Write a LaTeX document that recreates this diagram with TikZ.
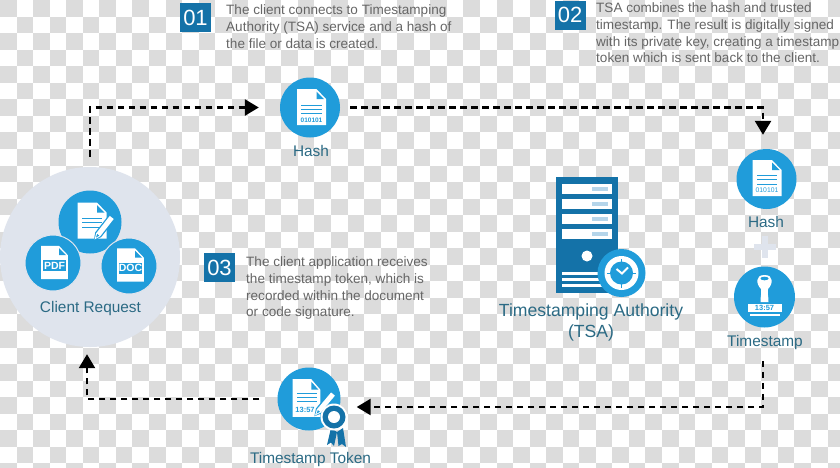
\documentclass[tikz,border=0pt]{standalone}
\usepackage{fontspec}
\setmainfont{Liberation Sans}
\usepackage{xcolor}
\usetikzlibrary{arrows.meta}

\definecolor{checkgray}{HTML}{DCDCDC}
\definecolor{iconblue}{HTML}{209CDA}
\definecolor{deepblue}{HTML}{1472A8}
\definecolor{palehalo}{HTML}{DFE4ED}
\definecolor{palebar}{HTML}{B5D5EA}
\definecolor{labelteal}{HTML}{2B6A84}
\definecolor{notegray}{HTML}{666666}

\tikzset{
  iconcirc/.style={circle, fill=iconblue, inner sep=0pt, minimum size=#1},
  numbox/.style={fill=deepblue, text=white, minimum width=31pt, minimum height=29pt, inner sep=0pt,
    font=\fontsize{22}{22}\selectfont},
  notetext/.style={anchor=north west, inner sep=0pt, align=left, text=notegray,
    font=\fontsize{13.55}{16.8}\selectfont},
  iconlabel/.style={text=labelteal, inner sep=0pt, font=\fontsize{15.4}{18}\selectfont},
  flowarrow/.style={black, line width=2.6pt, dash pattern=on 6.5pt off 4.5pt,
    -{Triangle[length=14pt,width=16pt]}},
  sheetword/.style={inner sep=0pt, font=\bfseries\fontsize{#1}{#1}\selectfont},
  pagesheet/.pic={
    \fill[white] (-14.5,-18) -- (5,-18) -- (14.5,-8) -- (14.5,18) -- (-14.5,18) -- cycle;
    \fill[iconblue] (5,-15.5) -- (5,-8) -- (12.5,-8) -- cycle;
  },
  pencilmark/.pic={
    \fill[iconblue] (-1,0) -- (6,-3.8) -- (29,-3.8) -- (29,3.8) -- (6,3.8) -- cycle;
    \fill[white] (0,0) -- (6,-2.5) -- (28,-2.5) -- (28,2.5) -- (6,2.5) -- cycle;
    \fill[iconblue] (2.5,0) -- (6,-1.3) -- (6,1.3) -- cycle;
  },
}

\begin{document}
\begin{tikzpicture}[x=1pt, y=-1pt]
  \useasboundingbox (0,0) rectangle (840,467);

  % ── Checkered backdrop ──
  \fill[white] (0,0) rectangle (840,467);
  \foreach \i in {0,...,50}{
    \foreach \j in {0,...,28}{
      \pgfmathtruncatemacro{\odd}{mod(\i+\j,2)}
      \ifnum\odd=0
        \fill[checkgray] ({\i*16.55},{\j*16.55}) rectangle ++(16.55,16.55);
      \fi
    }
  }

  % ── Numbered notes ──
  \node[numbox] (numone) at (195.5,17.5) {01};
  \node[numbox] (numtwo) at (570,15) {02};
  \node[numbox] (numthree) at (219.5,267.5) {03};
  \node[notetext] (noteone) at (226,4.5) {The client connects to Timestamping\\Authority (TSA) service and a hash of\\the file or data is created.};
  \node[notetext] (notetwo) at (596,2.5) {TSA combines the hash and trusted\\timestamp. The result is digitally signed\\with its private key, creating a timestamp\\token which is sent back to the client.};
  \node[notetext] (notethree) at (246,256.5) {The client application receives\\the timestamp token, which is\\recorded within the document\\or code signature.};

  % ── Client request group ──
  \node[circle, fill=palehalo, inner sep=0pt, minimum size=180pt] (client) at (90,257) {};
  \node[iconcirc=63pt] (editdoc) at (90,222) {};
  \pic at (92,220.5) {pagesheet};
  \foreach \y in {218,222,227}{\draw[iconblue, line width=0.9pt] (82,\y) -- (102,\y);}
  \pic[rotate=52] at (94.5,239.5) {pencilmark};
  \node[iconcirc=56pt, draw=palehalo, line width=1pt] (pdfdoc) at (53,263) {};
  \pic[scale=0.92] at (54.5,262.5) {pagesheet};
  \node[sheetword=10.5, fill=iconblue, text=white, minimum width=23pt, minimum height=11pt] (pdfword) at (54.5,265.5) {PDF};
  \node[iconcirc=56pt, draw=palehalo, line width=1pt] (docdoc) at (129,266) {};
  \pic[scale=0.92] at (130.5,265) {pagesheet};
  \node[sheetword=10.5, fill=iconblue, text=white, minimum width=23pt, minimum height=11pt] (docword) at (130.5,268) {DOC};
  \node[iconlabel] (clientlabel) at (90.5,308.5) {Client Request};

  % ── Hash on top ──
  \node[iconcirc=60pt] (hashtop) at (310,107.5) {};
  \pic at (311.5,107) {pagesheet};
  \foreach \y in {105,109.5,113.5}{\draw[iconblue, line width=0.9pt] (301,\y) -- (322,\y);}
  \node[sheetword=6.5, text=iconblue] (hashtopbits) at (311.5,120) {010101};
  \node[iconlabel] (hashtoplabel) at (311,151) {Hash};

  % ── Hash and timestamp on the right ──
  \node[iconcirc=60pt] (hashright) at (766.5,179) {};
  \pic at (767,178) {pagesheet};
  \foreach \y in {175,179.5,184}{\draw[iconblue, line width=0.9pt] (757,\y) -- (777,\y);}
  \node[inner sep=0pt, text=iconblue, font=\fontsize{6.8}{7}\selectfont] (hashrightbits) at (767,190.5) {010101};
  \node[iconlabel] (hashrightlabel) at (766,222) {Hash};
  \fill[palehalo] (762,236) rectangle (768,258);
  \fill[palehalo] (754,244) rectangle (776,250);

  \node[iconcirc=61pt] (stampcirc) at (764.5,297) {};
  \fill[white] (760.5,302) .. controls (760.5,295) and (762,293) .. (761,289)
    .. controls (756,284) and (755,275) .. (764.5,275)
    .. controls (774,275) and (773,284) .. (768,289)
    .. controls (767,293) and (768.5,295) .. (768.5,302) -- cycle;
  \fill[iconblue] (764.5,278.5) ellipse (4 and 1.8);
  \fill[white] (748,303.5) rectangle (781.5,312);
  \fill[white] (749.5,313.5) rectangle (779.5,316);
  \node[sheetword=7.5, text=iconblue] (stampclock) at (764.5,307.8) {13:57};
  \node[iconlabel] (stamplabel) at (765,342.5) {Timestamp};

  % ── Timestamping authority ──
  \fill[deepblue] (556,177) rectangle (618,293);
  \foreach \y in {184,199,214,229}{
    \fill[white] (562,\y) rectangle (612,\y+10);
    \fill[palebar] (592,\y+3) rectangle (608,\y+7);
  }
  \fill[white] (587,256) circle (5.5);
  \foreach \y in {272,278,284}{\fill[white] (562,\y) rectangle (604,\y+3);}
  \node[iconcirc=48pt] (clockring) at (621.5,273) {};
  \fill[white] (621.5,273) circle (17);
  \fill[iconblue] (621.5,273) circle (11.5);
  \foreach \a in {0,90,180,270}{\draw[iconblue, line width=1pt] (621.5,273) -- +(\a:14.5);}
  \draw[white, line width=2pt] (616.5,269) -- (622,273.5) -- (628,267.5);
  \node[text=labelteal, inner sep=0pt, align=center, font=\fontsize{17.6}{21}\selectfont] (tsalabel) at (591,322) {Timestamping Authority\\(TSA)};

  % ── Timestamp token ──
  \node[iconcirc=63pt] (token) at (309,399) {};
  \pic[xscale=0.95,yscale=1.05] at (306.5,398) {pagesheet};
  \foreach \y in {393,397,401}{\draw[iconblue, line width=0.9pt] (297,\y) -- (316.5,\y);}
  \node[sheetword=7.5, text=iconblue] (tokenclock) at (305,410) {13:57};
  \pic[rotate=50] at (315,415.5) {pencilmark};
  \fill[deepblue] (331,428) -- (337,432) -- (334,446) -- (331,442.5) -- (327,445) -- cycle;
  \fill[deepblue] (337,432) -- (343,428) -- (346,447) -- (342,444) -- (338.5,446) -- cycle;
  \fill[white] (334,417) circle (13.5);
  \fill[deepblue] (334,417) circle (11.5);
  \fill[white] (334,417) circle (6);
  \node[iconlabel] (tokenlabel) at (310.5,459.5) {Timestamp Token};

  % ── Flow arrows ──
  \draw[flowarrow, shorten <=10pt, shorten >=21pt] (client.north) |- (hashtop.west);
  \draw[flowarrow, shorten <=10pt, shorten >=14pt] (hashtop.east) -| ([xshift=-3.5pt]hashright.north);
  \draw[flowarrow, shorten <=11pt, shorten >=16pt] ([xshift=-2pt]stamplabel.south) |- ([yshift=-8pt]token.east);
  \draw[flowarrow, shorten <=18pt, shorten >=7pt] (token.west) -| ([xshift=-3pt]client.south);
\end{tikzpicture}
\end{document}
